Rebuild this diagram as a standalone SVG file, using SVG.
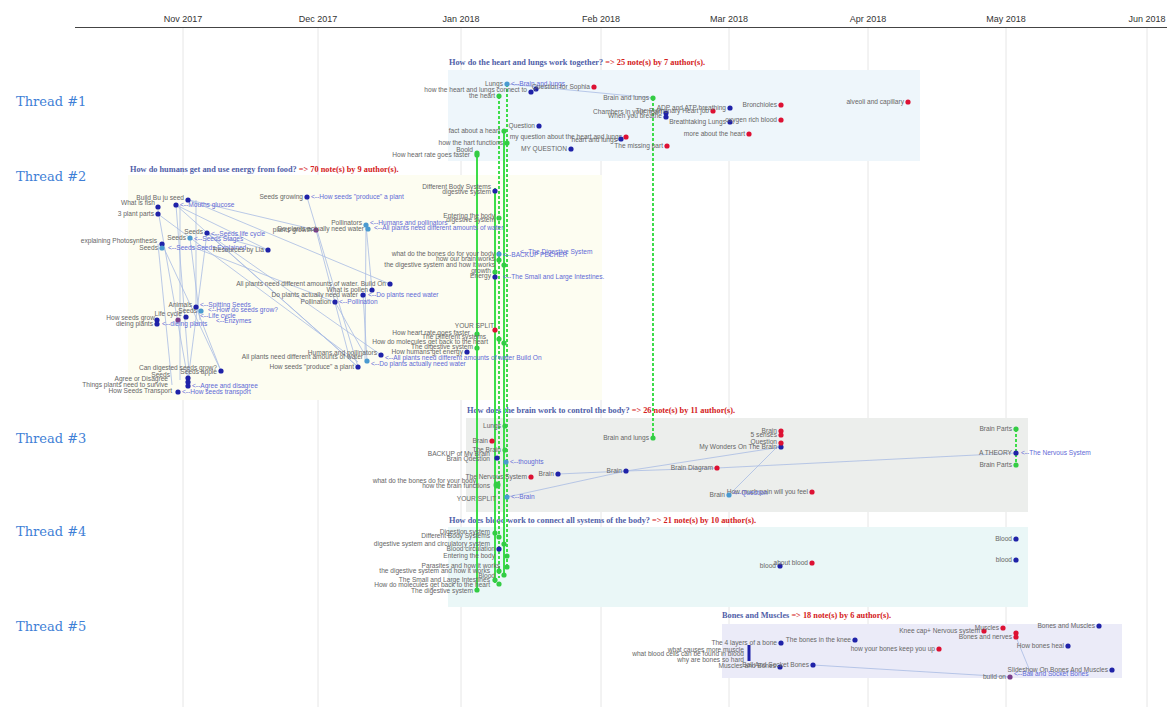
<svg xmlns="http://www.w3.org/2000/svg" width="1167" height="707" viewBox="0 0 1167 707">
<style>
.ax{font-family:"Liberation Sans",Arial,sans-serif;font-size:9px;fill:#333;text-anchor:middle}
.grid{stroke:#e6e6e6;stroke-width:1}
.th{font-family:"DejaVu Serif","Liberation Serif",serif;font-size:13px;fill:#3f7fd6}
.ti{font-family:"Liberation Serif",serif;font-weight:bold;font-size:8.3px;fill:#5060a8}
.ti .c{fill:#d42020}
text.n{font-family:"Liberation Sans",Arial,sans-serif;font-size:6.6px;fill:#666;text-anchor:end}
text.k{font-family:"Liberation Sans",Arial,sans-serif;font-size:6.6px;fill:#5f6ad6}
.db{fill:#1f22a8}.r{fill:#dd1133}.g{fill:#33cc44}.lb{fill:#4a9ad0}.pu{fill:#7a3d8a}
.gl{stroke:#3ddd4a;stroke-width:2;fill:none}
.gd{stroke:#3ddd4a;stroke-width:2;fill:none;stroke-dasharray:3 2}
.bl{stroke:#a9bce4;stroke-width:1;fill:none;opacity:.8}
</style>
<rect width="1167" height="707" fill="#fff"/>
<g id="axis">
<g class="grid"><line x1="183" y1="28" x2="183" y2="707"/><line x1="318" y1="28" x2="318" y2="707"/><line x1="461" y1="28" x2="461" y2="707"/><line x1="601" y1="28" x2="601" y2="707"/><line x1="729" y1="28" x2="729" y2="707"/><line x1="868" y1="28" x2="868" y2="707"/><line x1="1006" y1="28" x2="1006" y2="707"/><line x1="1147" y1="28" x2="1147" y2="707"/></g>
<line x1="75" y1="27.5" x2="1167" y2="27.5" stroke="#444"/>
<text class="ax" x="183" y="22">Nov 2017</text><text class="ax" x="318" y="22">Dec 2017</text><text class="ax" x="461" y="22">Jan 2018</text><text class="ax" x="601" y="22">Feb 2018</text><text class="ax" x="729" y="22">Mar 2018</text><text class="ax" x="868" y="22">Apr 2018</text><text class="ax" x="1006" y="22">May 2018</text><text class="ax" x="1147" y="22">Jun 2018</text>
</g>
<g id="threads">
<rect x="448" y="70" width="472" height="91" fill="#eef6fb"/>
<rect x="128" y="175" width="474" height="225" fill="#fdfdf1"/>
<rect x="466" y="418" width="562" height="94" fill="#eceeec"/>
<rect x="448" y="527" width="580" height="80" fill="#eaf7f7"/>
<rect x="722" y="624" width="400" height="54" fill="#ebebf8"/>
<text class="th" x="16" y="106">Thread #1</text>
<text class="th" x="16" y="181">Thread #2</text>
<text class="th" x="16" y="443">Thread #3</text>
<text class="th" x="16" y="536">Thread #4</text>
<text class="th" x="16" y="631">Thread #5</text>
<text class="ti" x="449" y="65">How do the heart and lungs work together?<tspan class="c"> =&gt; 25 note(s) by 7 author(s).</tspan></text>
<text class="ti" x="130" y="172">How do humans get and use energy from food?<tspan class="c"> =&gt; 70 note(s) by 9 author(s).</tspan></text>
<text class="ti" x="467" y="413">How does the brain work to control the body?<tspan class="c"> =&gt; 26 note(s) by 11 author(s).</tspan></text>
<text class="ti" x="449" y="523">How does blood work to connect all systems of the body?<tspan class="c"> =&gt; 21 note(s) by 10 author(s).</tspan></text>
<text class="ti" x="722" y="618">Bones and Muscles<tspan class="c"> =&gt; 18 note(s) by 6 author(s).</tspan></text>
</g>
<g id="connectors">
<path class="bl" d="M507 84L653 98"/>
<path class="bl" d="M176 205L358 367M189 200L390 284M176 205L190 385M158 210L188 380M162 244L221 371M207 233L358 367M207 233L268 250M190 246L335 302M307 197L358 367M316 230L350 360M366 225L365 360M366 225L372 290M335 302L365 355M190 238L200 320M176 205L268 250M158 214L358 362M221 371L196 307M188 380L207 233M180 205L180 380M196 200L196 310M158 244L172 385M189 200L316 230M207 233L381 355M363 294L367 361"/>
<path class="bl" d="M558 474L626 471L717 468L1016 453M507 497L626 471L781 447M729 495L781 443"/>
<path class="bl" d="M813 665L1010 677M1016 637L1032 676"/>
<path class="gl" d="M477 153V590M495 188V583M504 131V575"/>
<path class="gd" d="M499 96V578M507 84V568M653 98V438M1016 429V465"/>
</g>
<g id="t1">
<g id="n101"><circle class="lb" cx="507" cy="84" r="2.6"/><text class="n" x="503" y="86">Lungs</text><text class="k" x="511" y="86">&lt;--Brain and lungs</text></g>
<g id="n102"><circle class="db" cx="531" cy="92" r="2.6"/><text class="n" x="527" y="92">how the heart and lungs connect to</text></g>
<g id="n103"><circle class="db" cx="536" cy="89" r="2.6"/></g>
<g id="n104"><circle class="r" cx="594" cy="87" r="2.6"/><text class="n" x="590" y="89">Question for Sophia</text></g>
<g id="n105"><circle class="g" cx="499" cy="96" r="2.6"/><text class="n" x="495" y="98">the heart</text></g>
<g id="n106"><circle class="g" cx="653" cy="98" r="2.6"/><text class="n" x="649" y="100">Brain and lungs</text></g>
<g id="n107"><circle class="db" cx="666" cy="113" r="2.6"/><text class="n" x="662" y="114">Chambers in your heart</text></g>
<g id="n108"><circle class="db" cx="666" cy="117" r="2.6"/><text class="n" x="662" y="118">When you breathe</text></g>
<g id="n109"><circle class="r" cx="713" cy="111" r="2.6"/><text class="n" x="709" y="113">The Pulmonary Heart job</text></g>
<g id="n110"><circle class="db" cx="730" cy="108" r="2.6"/><text class="n" x="726" y="110">ADP and ATP breathing</text></g>
<g id="n111"><circle class="r" cx="781" cy="105" r="2.6"/><text class="n" x="777" y="107">Bronchioles</text></g>
<g id="n112"><circle class="r" cx="908" cy="102" r="2.6"/><text class="n" x="904" y="104">alveoli and capillary</text></g>
<g id="n113"><circle class="db" cx="730" cy="122" r="2.6"/><text class="n" x="726" y="124">Breathtaking Lungs</text></g>
<g id="n114"><circle class="r" cx="781" cy="120" r="2.6"/><text class="n" x="777" y="122">oxygen rich blood</text></g>
<g id="n115"><circle class="r" cx="749" cy="134" r="2.6"/><text class="n" x="745" y="136">more about the heart</text></g>
<g id="n116"><circle class="db" cx="539" cy="126" r="2.6"/><text class="n" x="535" y="128">Question</text></g>
<g id="n117"><circle class="g" cx="504" cy="131" r="2.6"/><text class="n" x="500" y="133">fact about a heart</text></g>
<g id="n118"><circle class="r" cx="626" cy="137" r="2.6"/><text class="n" x="622" y="139">my question about the heart and lungs</text></g>
<g id="n119"><circle class="db" cx="621" cy="139" r="2.6"/><text class="n" x="617" y="142">heart and lungs</text></g>
<g id="n120"><circle class="g" cx="507" cy="143" r="2.6"/><text class="n" x="503" y="145">how the hart functions</text></g>
<g id="n121"><circle class="db" cx="571" cy="149" r="2.6"/><text class="n" x="567" y="151">MY QUESTION</text></g>
<g id="n122"><circle class="r" cx="667" cy="146" r="2.6"/><text class="n" x="663" y="148">The missing part</text></g>
<g id="n123"><circle class="g" cx="477" cy="153" r="2.6"/><text class="n" x="473" y="152">Boold</text></g>
<g id="n124"><circle class="g" cx="477" cy="155" r="2.6"/><text class="n" x="470" y="157">How heart rate goes faster</text></g>
</g>
<g id="t2">
<g id="n201"><circle class="db" cx="188" cy="200" r="2.6"/><text class="n" x="184" y="200">Build Bu ju seed</text></g>
<g id="n202"><circle class="db" cx="176" cy="205" r="2.6"/><text class="k" x="180" y="207">&lt;--Mouths glucose</text></g>
<g id="n203"><circle class="db" cx="158" cy="207" r="2.6"/><text class="n" x="155" y="205">What is fish</text></g>
<g id="n204"><circle class="db" cx="158" cy="214" r="2.6"/><text class="n" x="154" y="216">3 plant parts</text></g>
<g id="n205"><circle class="db" cx="162" cy="244" r="2.6"/><text class="n" x="157" y="243">explaining Photosynthesis</text></g>
<g id="n206"><circle class="db" cx="207" cy="233" r="2.6"/><text class="n" x="203" y="234">Seeds</text><text class="k" x="211" y="236">&lt;--Seeds life cycle</text></g>
<g id="n207"><circle class="lb" cx="190" cy="238" r="2.6"/><text class="n" x="186" y="240">Seeds</text><text class="k" x="194" y="241">&lt;--Seeds Stages</text></g>
<g id="n208"><circle class="lb" cx="162" cy="248" r="2.6"/><text class="n" x="158" y="250">Seeds</text><text class="k" x="168" y="250">&lt;--Seeds Seeds Explained</text></g>
<g id="n209"><circle class="db" cx="268" cy="250" r="2.6"/><text class="n" x="264" y="252">Resources by Lia</text></g>
<g id="n210"><circle class="db" cx="307" cy="197" r="2.6"/><text class="n" x="303" y="199">Seeds growing</text><text class="k" x="311" y="199">&lt;--How seeds "produce" a plant</text></g>
<g id="n211"><circle class="pu" cx="316" cy="230" r="2.6"/><text class="n" x="312" y="232">plants growth</text></g>
<g id="n212"><circle class="lb" cx="366" cy="225" r="2.6"/><text class="n" x="362" y="225">Pollinators</text><text class="k" x="370" y="225">&lt;--Humans and pollinators</text></g>
<g id="n213"><circle class="lb" cx="368" cy="229" r="2.6"/><text class="n" x="364" y="231">Do plants actually need water</text><text class="k" x="374" y="230">&lt;--All plants need different amounts of water</text></g>
<g id="n214"><circle class="db" cx="495" cy="191" r="2.6"/><text class="n" x="491" y="189">Different Body Systems</text><text class="n" x="491" y="194">digestive system</text></g>
<g id="n215"><circle class="g" cx="499" cy="218" r="2.6"/><text class="n" x="495" y="218">Entering the body</text><text class="n" x="495" y="222">digestive system</text></g>
<g id="n216"><circle class="lb" cx="499" cy="254" r="2.6"/><text class="n" x="495" y="256">what do the bones do for your body</text><text class="k" x="503" y="257">&lt;--BACKUP PECHER</text><text class="k" x="520" y="254">&lt;--The Digestive System</text></g>
<g id="n217"><circle class="g" cx="499" cy="260" r="2.6"/><text class="n" x="495" y="261">how our brain works</text></g>
<g id="n218"><circle class="g" cx="504" cy="265" r="2.6"/><text class="n" x="495" y="267">the digestive system and how it works</text></g>
<g id="n219"><circle class="g" cx="495" cy="272" r="2.6"/><text class="n" x="491" y="273">growth</text></g>
<g id="n220"><circle class="db" cx="495" cy="277" r="2.6"/><text class="n" x="491" y="278">Energy</text><text class="k" x="503" y="279">&lt;--The Small and Large Intestines.</text></g>
<g id="n221"><circle class="db" cx="390" cy="284" r="2.6"/><text class="n" x="386" y="286">All plants need different amounts of water. Build On</text></g>
<g id="n222"><circle class="db" cx="372" cy="290" r="2.6"/><text class="n" x="368" y="292">What is pollen</text></g>
<g id="n223"><circle class="db" cx="363" cy="295" r="2.6"/><text class="n" x="358" y="297">Do plants actually need water</text><text class="k" x="368" y="297">&lt;--Do plants need water</text></g>
<g id="n224"><circle class="db" cx="335" cy="302" r="2.6"/><text class="n" x="331" y="304">Pollination</text><text class="k" x="339" y="304">&lt;--Pollination</text></g>
<g id="n225"><circle class="db" cx="381" cy="355" r="2.6"/><text class="n" x="377" y="355">Humans and pollinators</text><text class="k" x="385" y="360">&lt;--All plants need different amounts of water Build On</text></g>
<g id="n226"><circle class="lb" cx="367" cy="361" r="2.6"/><text class="n" x="363" y="359">All plants need different amounts of water</text><text class="k" x="371" y="366">&lt;--Do plants actually need water</text></g>
<g id="n227"><circle class="db" cx="358" cy="367" r="2.6"/><text class="n" x="354" y="369">How seeds "produce" a plant</text></g>
<g id="n228"><circle class="r" cx="495" cy="330" r="2.6"/><text class="n" x="494" y="328">YOUR SPLIT</text></g>
<g id="n229"><circle class="g" cx="477" cy="334" r="2.6"/><text class="n" x="470" y="335">How heart rate goes faster</text></g>
<g id="n230"><circle class="g" cx="499" cy="339" r="2.6"/><text class="n" x="486" y="339">The Different systems</text></g>
<g id="n231"><circle class="g" cx="504" cy="343" r="2.6"/><text class="n" x="488" y="344">How do molecules get back to the heart</text></g>
<g id="n232"><circle class="g" cx="477" cy="348" r="2.6"/><text class="n" x="473" y="349">The digestive system</text></g>
<g id="n233"><circle class="db" cx="467" cy="352" r="2.6"/><text class="n" x="463" y="354">How humans get energy</text></g>
<g id="n234"><circle class="db" cx="196" cy="307" r="2.6"/><text class="n" x="192" y="307">Animals</text><text class="k" x="200" y="307">&lt;--Spitting Seeds</text></g>
<g id="n235"><circle class="lb" cx="201" cy="311" r="2.6"/><text class="n" x="197" y="313">Seeds</text><text class="k" x="208" y="312">&lt;--How do seeds grow?</text></g>
<g id="n236"><circle class="db" cx="186" cy="317" r="2.6"/><text class="n" x="182" y="316">Life cycle</text><text class="k" x="200" y="318">&lt;--Life cycle</text></g>
<g id="n237"><circle class="pu" cx="178" cy="320" r="2.6"/><text class="k" x="216" y="323">&lt;--Enzymes</text></g>
<g id="n238"><circle class="db" cx="157" cy="320" r="2.6"/><text class="n" x="155" y="320">How seeds grow</text></g>
<g id="n239"><circle class="db" cx="157" cy="324" r="2.6"/><text class="n" x="153" y="326">dieing plants</text><text class="k" x="162" y="326">&lt;--dieing plants</text></g>
<g id="n240"><circle class="db" cx="221" cy="371" r="2.6"/><text class="n" x="217" y="370">Can digested seeds grow?</text><text class="n" x="217" y="374">Seeds apple</text></g>
<g id="n241"><circle class="db" cx="188" cy="378" r="2.6"/><text class="n" x="170" y="377">Seeds</text></g>
<g id="n242"><circle class="db" cx="188" cy="382" r="2.6"/><text class="n" x="168" y="381">Agree or Disagree</text><text class="k" x="192" y="388">&lt;--Agree and disagree</text></g>
<g id="n243"><circle class="db" cx="188" cy="386" r="2.6"/><text class="n" x="168" y="387">Things plants need to survive</text></g>
<g id="n244"><circle class="db" cx="178" cy="392" r="2.6"/><text class="n" x="172" y="393">How Seeds Transport</text><text class="k" x="182" y="394">&lt;--How seeds transport</text></g>
</g>
<g id="t3">
<g id="n301"><circle class="g" cx="505" cy="426" r="2.6"/><text class="n" x="501" y="428">Lungs</text></g>
<g id="n302"><circle class="r" cx="492" cy="441" r="2.6"/><text class="n" x="488" y="443">Brain</text></g>
<g id="n303"><circle class="g" cx="505" cy="450" r="2.6"/><text class="n" x="501" y="452">The Brain</text></g>
<g id="n304"><circle class="db" cx="497" cy="458" r="2.6"/><text class="n" x="490" y="456">BACKUP of My Brain</text><text class="n" x="490" y="461">Brain Question</text></g>
<g id="n305"><circle class="lb" cx="506" cy="462" r="2.6"/><text class="k" x="510" y="464">&lt;--thoughts</text></g>
<g id="n306"><circle class="r" cx="531" cy="477" r="2.6"/><text class="n" x="527" y="479">The Nervous System</text></g>
<g id="n307"><circle class="db" cx="558" cy="474" r="2.6"/><text class="n" x="554" y="476">Brain</text></g>
<g id="n308"><circle class="db" cx="626" cy="471" r="2.6"/><text class="n" x="622" y="473">Brain</text></g>
<g id="n309"><circle class="g" cx="653" cy="438" r="2.6"/><text class="n" x="649" y="440">Brain and lungs</text></g>
<g id="n310"><circle class="r" cx="717" cy="468" r="2.6"/><text class="n" x="713" y="470">Brain Diagram</text></g>
<g id="n311"><circle class="g" cx="497" cy="485" r="3.5"/><text class="n" x="476" y="483">what do the bones do for your body</text><text class="n" x="490" y="488">how the brain functions</text></g>
<g id="n312"><circle class="lb" cx="507" cy="497" r="2.6"/><text class="n" x="496" y="501">YOUR SPLIT</text><text class="k" x="511" y="499">&lt;--Brain</text></g>
<g id="n313"><circle class="db" cx="781" cy="447" r="2.6"/><text class="n" x="777" y="449">My Wonders On The Brain</text></g>
<g id="n314"><circle class="r" cx="781" cy="431" r="2.6"/><text class="n" x="777" y="433">Brain</text></g>
<g id="n315"><circle class="r" cx="781" cy="435" r="2.6"/><text class="n" x="777" y="437">5 senses</text></g>
<g id="n316"><circle class="r" cx="781" cy="443" r="2.6"/><text class="n" x="777" y="444">Question</text></g>
<g id="n317"><circle class="g" cx="1016" cy="429" r="2.6"/><text class="n" x="1012" y="431">Brain Parts</text></g>
<g id="n318"><circle class="db" cx="1016" cy="453" r="2.6"/><text class="n" x="1012" y="455">A THEORY</text><text class="k" x="1021" y="455">&lt;--The Nervous System</text></g>
<g id="n319"><circle class="g" cx="1016" cy="465" r="2.6"/><text class="n" x="1012" y="467">Brain Parts</text></g>
<g id="n320"><circle class="r" cx="812" cy="492" r="2.6"/><text class="n" x="808" y="494">How much pain will you feel</text></g>
<g id="n321"><circle class="lb" cx="729" cy="495" r="2.6"/><text class="n" x="725" y="497">Brain</text><text class="k" x="733" y="495">&lt;--Question</text></g>
</g>
<g id="t4">
<g id="n401"><circle class="g" cx="495" cy="533" r="2.6"/><text class="n" x="490" y="534">Digestion system</text></g>
<g id="n402"><circle class="g" cx="499" cy="537" r="2.6"/><text class="n" x="490" y="538">Different Body Systems</text></g>
<g id="n403"><circle class="g" cx="504" cy="544" r="2.6"/><text class="n" x="490" y="546">digestive system and circulatory system</text></g>
<g id="n404"><circle class="db" cx="499" cy="549" r="2.6"/><text class="n" x="495" y="551">Blood circulation</text></g>
<g id="n405"><circle class="g" cx="507" cy="556" r="2.6"/><text class="n" x="495" y="558">Entering the body</text></g>
<g id="n406"><circle class="g" cx="507" cy="567" r="2.6"/><text class="n" x="500" y="568">Parasites and how it works</text></g>
<g id="n407"><circle class="g" cx="499" cy="571" r="2.6"/><text class="n" x="490" y="573">the digestive system and how it works</text></g>
<g id="n408"><circle class="g" cx="504" cy="575" r="2.6"/><text class="n" x="495" y="578">Blood</text></g>
<g id="n409"><circle class="g" cx="495" cy="580" r="2.6"/><text class="n" x="490" y="582">The Small and Large Intestines</text></g>
<g id="n410"><circle class="g" cx="499" cy="584" r="2.6"/><text class="n" x="490" y="587">How do molecules get back to the heart</text></g>
<g id="n411"><circle class="g" cx="477" cy="590" r="2.6"/><text class="n" x="473" y="593">The digestive system</text></g>
<g id="n412"><circle class="db" cx="780" cy="566" r="2.6"/><text class="n" x="776" y="568">blood</text></g>
<g id="n413"><circle class="r" cx="812" cy="563" r="2.6"/><text class="n" x="808" y="565">about blood</text></g>
<g id="n414"><circle class="db" cx="1016" cy="539" r="2.6"/><text class="n" x="1012" y="541">Blood</text></g>
<g id="n415"><circle class="db" cx="1016" cy="560" r="2.6"/><text class="n" x="1012" y="562">blood</text></g>
</g>
<g id="t5">
<g id="n501"><circle class="db" cx="781" cy="643" r="2.6"/><text class="n" x="777" y="645">The 4 layers of a bone</text></g>
<g id="n502"><circle class="db" cx="855" cy="640" r="2.6"/><text class="n" x="851" y="642">The bones in the knee</text></g>
<g id="n503"><circle class="r" cx="939" cy="649" r="2.6"/><text class="n" x="935" y="651">how your bones keep you up</text></g>
<g id="n504"><rect class="db" x="747.5" y="645" width="3" height="16"/><text class="n" x="744" y="652">what causes more muscle</text><text class="n" x="744" y="656">what blood cells can be found in blood</text><text class="n" x="744" y="662">why are bones so hard</text></g>
<g id="n505"><circle class="db" cx="780" cy="667" r="2.6"/><text class="n" x="776" y="668">Muscles and Bones</text></g>
<g id="n506"><circle class="db" cx="813" cy="665" r="2.6"/><text class="n" x="809" y="667">Ball And Socket Bones</text></g>
<g id="n507"><circle class="r" cx="984" cy="631" r="2.6"/><text class="n" x="980" y="633">Knee cap+ Nervous system</text></g>
<g id="n508"><circle class="r" cx="1003" cy="628" r="2.6"/><text class="n" x="999" y="630">Muscles</text></g>
<g id="n509"><circle class="r" cx="1016" cy="633" r="2.6"/><circle class="r" cx="1016" cy="637" r="2.6"/><text class="n" x="1012" y="639">Bones and nerves</text></g>
<g id="n510"><circle class="db" cx="1099" cy="626" r="2.6"/><text class="n" x="1095" y="628">Bones and Muscles</text></g>
<g id="n511"><circle class="db" cx="1068" cy="646" r="2.6"/><text class="n" x="1064" y="648">How bones heal</text></g>
<g id="n512"><circle class="db" cx="1112" cy="670" r="2.6"/><text class="n" x="1108" y="672">Slideshow On Bones And Muscles</text></g>
<g id="n513"><circle class="pu" cx="1010" cy="677" r="2.6"/><text class="n" x="1006" y="679">build on</text><text class="k" x="1014" y="676">&lt;--Ball and Socket Bones</text></g>
</g>
</svg>
